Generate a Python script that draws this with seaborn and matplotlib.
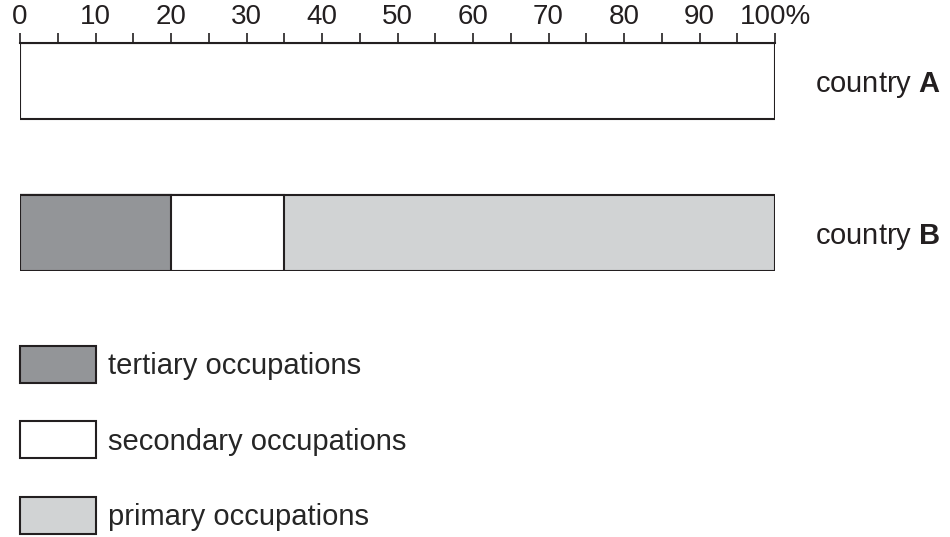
import numpy as np
import pandas as pd
import seaborn as sns
import matplotlib.pyplot as plt
from matplotlib.patches import Patch

# data
countries = ["country A", "country B"]
occupations = ["tertiary occupations", "secondary occupations", "primary occupations"]
shares_b = [20, 15, 65]
total_a = [100]
tick_values = list(range(0, 101, 10))
tick_labels = [str(v) for v in tick_values[:-1]] + ["100%"]

colors = {"tertiary occupations": "#939598",
          "secondary occupations": "#ffffff",
          "primary occupations": "#d1d3d4"}
edge = "#231f20"

sns.set_style("white")
plt.rcParams["font.family"] = ["Liberation Sans", "DejaVu Sans"]
plt.rcParams["mathtext.fontset"] = "custom"
plt.rcParams["mathtext.rm"] = "Liberation Sans"
plt.rcParams["mathtext.bf"] = "Liberation Sans:bold"

df_b = pd.DataFrame({
    "country": "country B",
    "occupation": occupations,
    "cum": np.cumsum(shares_b),
})

fig = plt.figure(figsize=(9.5, 5.37), dpi=100)
ax = fig.add_axes([20 / 950, 1 - 271 / 537, 755 / 950, 228 / 537])

# country A: no breakdown, plain white bar
sns.barplot(x=total_a, y=["country A"], order=countries, color="white",
            saturation=1, edgecolor=edge, linewidth=1.5, width=0.5,
            errorbar=None, orient="h", ax=ax)

# country B: stacked bars drawn largest first
sns.barplot(data=df_b, x="cum", y="country", hue="occupation",
            hue_order=occupations[::-1], order=countries, dodge=False,
            palette=colors, saturation=1, edgecolor=edge, linewidth=1.5,
            width=0.5, errorbar=None, legend=False, orient="h", ax=ax)

ax.set_xlim(0, 100)
ax.set_ylim(1.25, -0.25)
ax.set_xlabel("")
ax.set_ylabel("")

ax.xaxis.tick_top()
ax.set_xticks(tick_values, labels=tick_labels)
ax.set_xticks(range(5, 100, 10), minor=True)
ax.tick_params(axis="x", which="both", direction="out", length=7.2, width=1.2,
               pad=2, labelsize=20, colors=edge, top=True, bottom=False)

ax.yaxis.tick_right()
ax.set_yticks([0, 1], labels=[f"country $\\mathbf{{{c.split()[-1]}}}$" for c in countries])
ax.tick_params(axis="y", length=0, pad=29, labelsize=21, colors=edge)

for side in ["bottom", "left", "right"]:
    ax.spines[side].set_visible(False)
ax.spines["top"].set_linewidth(1.5)
ax.spines["top"].set_color(edge)

handles = [Patch(facecolor=colors[o], edgecolor=edge, linewidth=1.5) for o in occupations]
fig.legend(handles, occupations, loc="upper left",
           bbox_to_anchor=(20 / 950, 1 - 346 / 537), frameon=False,
           fontsize=21, handlelength=2.6, handleheight=1.574,
           labelspacing=1.32, handletextpad=0.4, borderpad=0, borderaxespad=0)

fig.savefig("out.png", dpi=100)
